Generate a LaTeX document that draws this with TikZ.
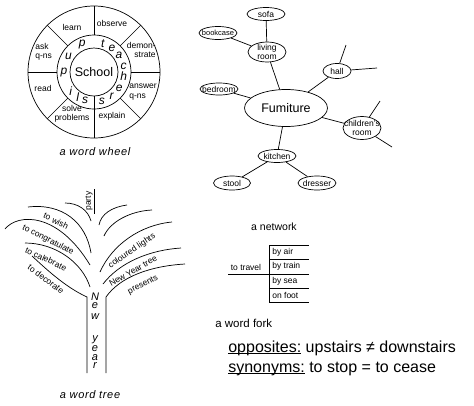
\documentclass[tikz,border=0pt]{standalone}
\usepackage{fontspec}
\setmainfont{Liberation Sans}
\usetikzlibrary{shapes.geometric, calc}
\newsavebox\uwordbox
\newcommand{\uword}[1]{\sbox\uwordbox{#1}\rlap{\rule[-2.2pt]{\wd\uwordbox}{0.9pt}}\usebox\uwordbox}

\begin{document}
\begin{tikzpicture}[x=1pt, y=1pt, line width=0.7pt,
    every node/.style={font=\fontsize{8.5}{9.5}\selectfont, inner sep=0pt},
    room/.style={draw, ellipse, align=center, inner xsep=-5pt, inner ysep=-1.5pt, minimum width=38pt, minimum height=13pt},
    letter/.style={font=\fontsize{12}{12}\selectfont\itshape},
    caption/.style={font=\fontsize{11}{11}\selectfont\itshape\addfontfeature{LetterSpace=6}},
    forkitem/.style={anchor=west}]
  \useasboundingbox (0,0) rectangle (474,-405);

  % word wheel
  \coordinate (hub) at (94,-72);
  \draw (hub) circle (66pt) (hub) circle (37pt);
  \node[draw, circle, minimum size=48pt, font=\fontsize{12.5}{13}\selectfont] (school) at (hub) {School};
  \foreach \a in {0,45,90,135,180,225,315}
    \draw ($(hub)+(\a:37pt)$) -- ($(hub)+(\a:66pt)$);
  \draw (school.south) -- ($(hub)+(270:66pt)$);
  \foreach \ch/\a [count=\i] in {p/113, u/148, p/181, i/219, l/237, s/253}
    \node[letter] (pu\i) at ($(hub)+(\a:30pt)$) {\ch};
  \foreach \ch/\a [count=\i] in {t/73, e/53, a/34, c/10, h/-8, e/-33, r/-54, s/-75}
    \node[letter] (te\i) at ($(hub)+(\a:30pt)$) {\ch};
  \node (learn) at (72,-27) {learn};
  \node (observe) at (112,-23) {observe};
  \node[align=right, anchor=east] (demo) at (156,-50) {demon-\\strate};
  \node[align=left, anchor=west] (answer) at (129,-92) {answer\\q-ns};
  \node (explain) at (112,-116) {explain};
  \node[align=center] (solve) at (72,-114) {solve\\problems};
  \node (read) at (43,-88) {read};
  \node[align=left, anchor=west] (ask) at (35,-52) {ask\\q-ns};
  \node[caption] (wheelcap) at (95,-152) {a word wheel};

  % network
  \node[room, minimum width=83pt, minimum height=37pt, font=\fontsize{12.5}{13}\selectfont] (furn) at (286,-108) {Fumiture};
  \node[room] (sofa) at (266,-14) {sofa};
  \node[room, font=\fontsize{7.5}{8}\selectfont] (bookcase) at (218,-33) {bookcase};
  \node[room, minimum height=20pt] (living) at (267,-52) {living\\room};
  \node[room, minimum width=28pt, minimum height=15pt] (hall) at (337,-71) {hall};
  \node[room, minimum height=12pt] (bedroom) at (219,-89) {bedroom};
  \node[room, minimum height=23pt] (children) at (362,-128) {children's\\room};
  \node[room] (kitchen) at (277,-156) {kitchen};
  \node[room, minimum width=37pt, minimum height=14pt] (stool) at (232,-183) {stool};
  \node[room, minimum height=14pt] (dresser) at (317,-183) {dresser};
  \coordinate (hallA) at (346,-45);
  \coordinate (hallB) at (377,-68);
  \coordinate (chA) at (380,-101);
  \coordinate (chB) at (392,-147);
  \draw (sofa) -- (living) (bookcase) -- (living) (living) -- (furn)
    (bedroom) -- (furn) (hall) -- (furn) (children) -- (furn)
    (furn) -- (kitchen) (kitchen) -- (stool) (kitchen) -- (dresser)
    (hall) -- (hallA) (hall) -- (hallB) (children) -- (chA) (children) -- (chB);
  \node[font=\fontsize{10.5}{11}\selectfont] (netcap) at (274,-227) {a network};

  % word tree
  \draw (65,-203) .. controls (78,-203) and (88,-210) .. (91,-221);
  \draw (28,-207) .. controls (62,-203) and (86,-222) .. (91,-253);
  \draw (5,-229) .. controls (18,-213) and (58,-212) .. (90,-265);
  \draw (25,-243) .. controls (55,-243) and (82,-262) .. (90,-287);
  \draw (32,-256) .. controls (45,-268) and (65,-287) .. (87,-297) -- (87,-373);
  \draw (99,-225) .. controls (101,-214) and (112,-207) .. (127,-205);
  \draw (104,-236) .. controls (110,-222) and (130,-211) .. (152,-210);
  \draw (100,-272) .. controls (112,-245) and (140,-225) .. (172,-222);
  \draw (103,-284) .. controls (120,-262) and (150,-250) .. (181,-248);
  \draw (185,-264) .. controls (150,-266) and (120,-277) .. (106,-297) -- (106,-373);
  \draw (94,-189) -- (94,-214);
  \node[rotate=90] (party) at (89,-201) {party};
  \node[rotate=-26] (wish) at (56,-221) {to wish};
  \node[rotate=-27] (congrat) at (48,-240) {to congratulate};
  \node[rotate=-25] (celeb) at (46,-259) {to calebrate};
  \node[rotate=-37] (decor) at (46,-279) {to decorate};
  \node[rotate=34] (lights) at (132,-251) {coloured lights};
  \node[rotate=30] (xtree) at (133,-271) {New Year tree};
  \node[rotate=27] (gifts) at (143,-285) {presents};
  \foreach \ch/\yy [count=\i] in {N/300, e/308, w/319, y/341, e/351, a/360, r/368}
    \node[anchor=base, font=\fontsize{11}{11}\selectfont\itshape] (ny\i) at (95,-\yy) {\ch};
  \node[caption] (treecap) at (90,-395) {a word tree};

  % word fork
  \draw (269,-245) -- (269,-302.3);
  \foreach \yy in {245, 259.3, 288, 302.3}
    \draw (269,-\yy) -- (309,-\yy);
  \draw (228,-274) -- (309,-274);
  \node (travel) at (246,-267) {to travel};
  \node[forkitem] (air) at (272,-252) {by air};
  \node[forkitem] (train) at (272,-266.5) {by train};
  \node[forkitem] (sea) at (272,-281) {by sea};
  \node[forkitem] (foot) at (272,-295.3) {on foot};
  \node[anchor=west, font=\fontsize{11.5}{12}\selectfont] (forkcap) at (215,-323) {a word fork};

  \node[anchor=base west, font=\fontsize{16}{20}\selectfont] (opp) at (228,-352) {\uword{opposites:} upstairs ≠ downstairs};
  \node[anchor=base west, font=\fontsize{16}{20}\selectfont] (syn) at (228,-372) {\uword{synonyms:} to stop = to cease};
\end{tikzpicture}
\end{document}
